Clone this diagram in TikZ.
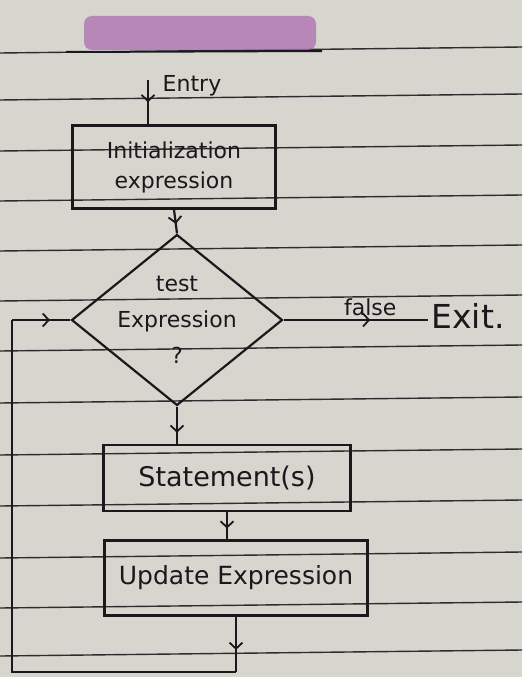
\documentclass[tikz,border=0pt]{standalone}
\usepackage{fontspec}
\setmainfont{DejaVu Sans}
\usepackage{tikz}
\usetikzlibrary{arrows.meta}
\usetikzlibrary{shapes.geometric}
\usetikzlibrary{decorations.markings}

\definecolor{paper}{RGB}{214,213,206}
\definecolor{ruling}{RGB}{45,44,46}
\definecolor{ink}{RGB}{26,24,28}
\definecolor{hilite}{RGB}{172,110,176}

\tikzset{
    stepbox/.style={draw=ink, line width=2.2pt, rectangle, inner sep=0pt, align=center},
    testbox/.style={draw=ink, line width=2.2pt, diamond, inner sep=0pt},
    flow/.style={draw=ink, line width=2.2pt},
    midarrow/.style={flow, postaction={decorate},
        decoration={markings, mark=at position #1 with {\arrow[ink, line width=1.8pt]{Straight Barb[length=6pt, width=13pt]}}}},
    midarrow/.default=0.55,
}

\begin{document}
\begin{tikzpicture}[x=1pt, y=-1pt, text=ink]
    \useasboundingbox (0,0) rectangle (522,677);
    \fill[paper] (0,0) rectangle (522,677);

    % ruled lines of the sheet
    \foreach \y in {50,97,148,198,248,298,348,400,452,503,555,605,653}
        \draw[ruling, line width=1.4pt] (0,\y+3) -- (522,\y-3);

    % title, marked over in purple
    \fill[hilite, opacity=0.75, rounded corners=8pt] (84,16) rectangle (316,50);
    \draw[ink, line width=2pt] (66,52) -- (322,51);

    \node(init) [stepbox, minimum width=203pt, minimum height=83pt,
        font=\fontsize{22}{30}\selectfont] at (174,167) {Initialization\\expression};
    \node(test) [testbox, minimum width=211pt, minimum height=171pt] at (177,320) {};
    \node(testlabel) [align=center, font=\fontsize{22}{36}\selectfont] at (177,320) {test\\Expression\\?};
    \node(stmt) [stepbox, minimum width=247pt, minimum height=66pt,
        font=\fontsize{27}{30}\selectfont] at (227,478) {Statement(s)};
    \node(upd) [stepbox, minimum width=263pt, minimum height=75pt,
        font=\fontsize{25}{30}\selectfont] at (236,578) {Update Expression};
    \node(exit) [anchor=west, font=\fontsize{33}{36}\selectfont] at (428,316) {Exit.};

    \coordinate(entry) at (148,80);
    \coordinate(loopbl) at (12,672);
    \node(entrylabel) [font=\fontsize{22}{24}\selectfont] at (192,86) {Entry};

    \draw[midarrow=0.5] (entry) -- (entry |- init.north);
    \draw[midarrow=0.6] (init.south) -- (test.north);
    \draw[midarrow=0.6] (test.east) -- node[above, pos=0.6, font=\fontsize{22}{24}\selectfont] {false} (test.east -| exit.west);
    \draw[midarrow=0.7] (test.south) -- (test.south |- stmt.north);
    \draw[midarrow=0.6] (stmt.south) -- (stmt.south |- upd.north);
    \draw[midarrow=0.6] (upd.south) -- (upd.south |- loopbl);
    \draw[flow] (upd.south |- loopbl) -- (loopbl) -- (loopbl |- test.west);
    \draw[midarrow=0.65] (loopbl |- test.west) -- (test.west);
\end{tikzpicture}
\end{document}
